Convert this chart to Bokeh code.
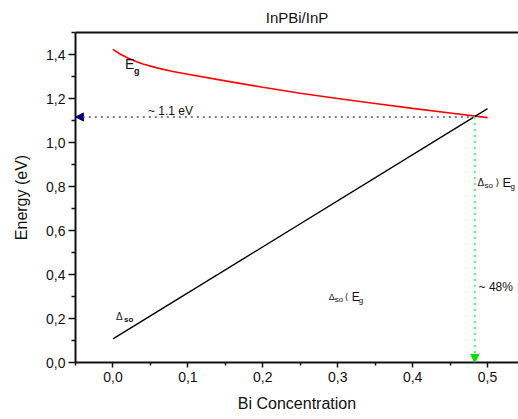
from bokeh.plotting import figure
from bokeh.models import (Range1d, FixedTicker, LinearAxis, Label, Arrow, NormalHead)
from bokeh.embed import file_html
from bokeh.resources import INLINE

# ---- data ----
bi_conc = [0.0, 0.01, 0.02, 0.03, 0.04, 0.06, 0.08, 0.10, 0.15, 0.20, 0.25, 0.30, 0.35, 0.40, 0.45, 0.50]
eg_vals = [1.423, 1.401, 1.384, 1.369, 1.357, 1.338, 1.323, 1.310, 1.280, 1.251, 1.224, 1.200, 1.177, 1.155, 1.134, 1.113]
dso_x = [0.0, 0.5]
dso_vals = [0.107, 1.154]

x_cross = 0.483
e_cross = 1.116

x_ticks = [0.0, 0.1, 0.2, 0.3, 0.4, 0.5]
x_tick_labels = ["0,0", "0,1", "0,2", "0,3", "0,4", "0,5"]
x_minor = [-0.05, 0.05, 0.15, 0.25, 0.35, 0.45]
y_ticks = [0.0, 0.2, 0.4, 0.6, 0.8, 1.0, 1.2, 1.4]
y_tick_labels = ["0,0", "0,2", "0,4", "0,6", "0,8", "1,0", "1,2", "1,4"]
y_minor = [0.1, 0.3, 0.5, 0.7, 0.9, 1.1, 1.3, 1.5]

title_text = "InPBi/InP"
x_label = "Bi Concentration"
y_label = "Energy (eV)"

FONT = "Liberation Sans"
X0, X1 = -0.05, 0.5413
Y0, Y1 = 0.0, 1.5

p = figure(width=518, height=419, output_backend="svg", toolbar_location=None,
           x_range=Range1d(X0, X1), y_range=Range1d(Y0, Y1),
           min_border_left=75, min_border_right=0, min_border_top=32, min_border_bottom=57,
           x_axis_type=None, y_axis_type=None)
p.outline_line_color = None
p.background_fill_color = "white"
p.border_fill_color = "white"
p.xgrid.visible = False
p.ygrid.visible = False

p.title.text = title_text
p.title.text_font = FONT
p.title.text_font_size = "15px"
p.title.text_font_style = "normal"
p.title.align = "center"
p.title.vertical_align = "top"
p.title.text_color = "#111111"

xaxis = LinearAxis(ticker=FixedTicker(ticks=x_ticks, minor_ticks=x_minor),
                   major_label_overrides={t: l for t, l in zip(x_ticks, x_tick_labels)},
                   axis_label=x_label)
yaxis = LinearAxis(ticker=FixedTicker(ticks=y_ticks, minor_ticks=y_minor),
                   major_label_overrides={t: l for t, l in zip(y_ticks, y_tick_labels)},
                   axis_label=y_label)
for ax in (xaxis, yaxis):
    ax.axis_line_width = 2
    ax.axis_line_color = "#111111"
    ax.major_tick_line_color = "#111111"
    ax.minor_tick_line_color = "#111111"
    ax.major_tick_line_width = 1.5
    ax.minor_tick_line_width = 1.5
    ax.major_tick_in = 0
    ax.minor_tick_in = 0
    ax.major_label_text_font = FONT
    ax.major_label_text_font_size = "14px"
    ax.major_label_text_color = "#111111"
    ax.axis_label_text_font = FONT
    ax.axis_label_text_font_size = "16px"
    ax.axis_label_text_font_style = "normal"
    ax.axis_label_text_color = "#111111"
xaxis.major_tick_out = 5
xaxis.minor_tick_out = 3
xaxis.major_label_standoff = 4
xaxis.axis_label_standoff = 10
yaxis.major_tick_out = 7
yaxis.minor_tick_out = 4
yaxis.major_label_standoff = 3
yaxis.axis_label_standoff = 13
p.add_layout(xaxis, "below")
p.add_layout(yaxis, "left")

top = LinearAxis(ticker=FixedTicker(ticks=[]), axis_line_width=2, axis_line_color="#111111",
                 major_tick_line_color=None, minor_tick_line_color=None)
p.add_layout(top, "above")

# curves
p.line(bi_conc, eg_vals, line_color="#ff0000", line_width=1.6)
p.line(dso_x, dso_vals, line_color="#000000", line_width=1.4)

# dotted arrows
p.add_layout(Arrow(end=NormalHead(size=8, fill_color="#00007a", line_color="#00007a"),
                   x_start=x_cross, y_start=e_cross, x_end=X0, y_end=e_cross,
                   line_color="#7474dc", line_width=2, line_dash="2 4"))
p.add_layout(Arrow(end=NormalHead(size=8, fill_color="#00e000", line_color="#00e000"),
                   x_start=x_cross, y_start=e_cross, x_end=x_cross, y_end=Y0,
                   line_color="#66f066", line_width=2, line_dash="2 4"))


def lab(x, y, text, size, dx=0, dy=0, bold=False, font=FONT, color="#111111"):
    p.add_layout(Label(x=x, y=y, x_offset=dx, y_offset=dy, text=text,
                       text_font=font, text_font_size=f"{size}px",
                       text_font_style="bold" if bold else "normal",
                       text_align="left", text_baseline="middle", text_color=color))


# E_g label
lab(0.016, 1.355, "E", 14)
lab(0.016, 1.355, "g", 9, dx=9, dy=-7, bold=True)
# ~1.1 eV
lab(0.0467, 1.145, "~ 1.1 eV", 12)
# Delta_so (left)
lab(0.004, 0.209, "Δ", 10)
lab(0.004, 0.209, "so", 8, dx=8, dy=-3, bold=True)
# Delta_so > E_g
xr, yr = 0.4867, 0.818
lab(xr, yr, "Δ", 10)
lab(xr, yr, "so", 8, dx=7, dy=-3)
lab(xr, yr, "⟩", 10, dx=18, font="DejaVu Sans")
lab(xr, yr, "E", 13, dx=25)
lab(xr, yr, "g", 8, dx=33, dy=-4)
# ~48%
lab(0.488, 0.341, "~ 48%", 12)
# Delta_so < E_g
xm, ym = 0.288, 0.30
lab(xm, ym, "Δ", 9)
lab(xm, ym, "so", 8, dx=6, dy=-3)
lab(xm, ym, "⟨", 9, dx=16, font="DejaVu Sans")
lab(xm, ym, "E", 12, dx=23)
lab(xm, ym, "g", 8, dx=30, dy=-4)

open("out.html", "w").write(file_html(p, INLINE))
